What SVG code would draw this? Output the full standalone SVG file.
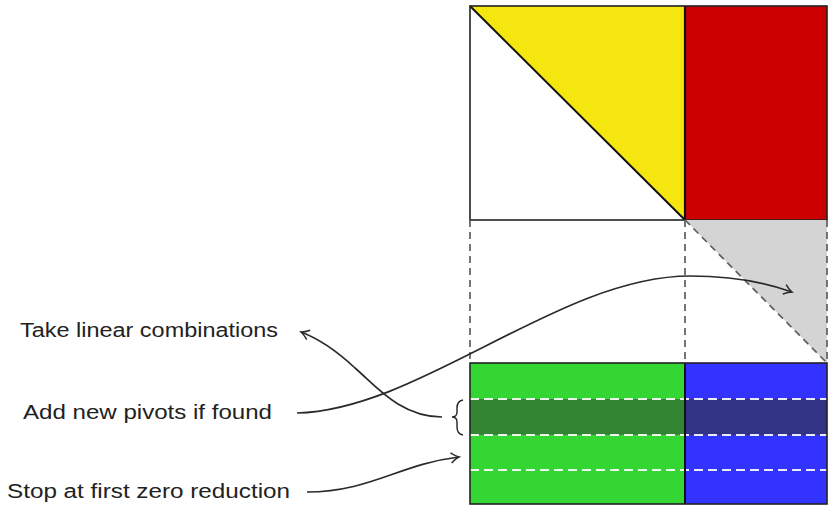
<svg xmlns="http://www.w3.org/2000/svg" width="829" height="506" viewBox="0 0 829 506">
  <style>
    .edge { stroke: #222; stroke-width: 1.6; fill: none; }
    .guide { stroke: #5e5e5e; stroke-width: 1.7; stroke-dasharray: 7 5; fill: none; }
    .row { stroke: #fff; stroke-width: 2; stroke-dasharray: 9 5; fill: none; opacity: 0.9; }
    .conn { stroke: #2a2a2a; stroke-width: 1.7; fill: none; marker-end: url(#arr); }
    .label { font-family: "Liberation Sans", "DejaVu Sans", sans-serif; font-size: 20px; fill: #222; }
  </style>
  <defs>
    <marker id="arr" viewBox="-10 -6 12 12" markerWidth="12" markerHeight="12" refX="0" refY="0" orient="auto" markerUnits="userSpaceOnUse">
      <path d="M-8,-5 Q-3,-1 0,0 Q-3,1 -8,5" fill="none" stroke="#2a2a2a" stroke-width="1.5"/>
    </marker>
  </defs>

  <rect width="829" height="506" fill="#fff"/>

  <!-- upper block: triangular pivot part and right part -->
  <g id="upper">
    <polygon points="470,6 685,6 685,220" fill="#f6e60f"/>
    <rect x="685" y="6" width="142" height="214" fill="#cc0000"/>
    <line x1="470" y1="6" x2="685" y2="220" stroke="#111" stroke-width="2"/>
    <line x1="685" y1="6" x2="685" y2="220" stroke="#111" stroke-width="2.2"/>
    <rect x="470" y="6" width="357" height="214" class="edge"/>
  </g>

  <!-- projected region between the blocks -->
  <g id="projection">
    <polygon points="685,220 827,220 827,363" fill="#d4d4d4"/>
    <line x1="470" y1="220" x2="470" y2="363" class="guide"/>
    <line x1="685" y1="220" x2="685" y2="363" class="guide"/>
    <line x1="827" y1="220" x2="827" y2="363" class="guide"/>
    <line x1="685" y1="220" x2="827" y2="363" class="guide"/>
  </g>

  <!-- lower block: rows being reduced -->
  <g id="lower">
    <rect x="470" y="363" width="215" height="141" fill="#33d633"/>
    <rect x="685" y="363" width="142" height="141" fill="#3333ff"/>
    <rect x="470" y="399" width="215" height="36" fill="#338533"/>
    <rect x="685" y="399" width="142" height="36" fill="#333385"/>
    <line x1="470" y1="399" x2="827" y2="399" class="row"/>
    <line x1="470" y1="435" x2="827" y2="435" class="row"/>
    <line x1="470" y1="470" x2="827" y2="470" class="row"/>
    <line x1="685" y1="363" x2="685" y2="504" stroke="#111" stroke-width="2"/>
    <rect x="470" y="363" width="357" height="141" class="edge"/>
  </g>

  <!-- brace marking the current row band -->
  <g id="brace">
    <path d="M463,400 Q457,401 457,408 L457,412 Q457,417 452,417 Q457,417 457,422 L457,427 Q457,434 463,435" fill="none" stroke="#222" stroke-width="1.4"/>
  </g>

  <g id="label-take">
    <text class="label" x="20" y="337" textLength="258" lengthAdjust="spacingAndGlyphs">Take linear combinations</text>
  </g>
  <g id="label-add">
    <text class="label" x="23" y="419" textLength="249" lengthAdjust="spacingAndGlyphs">Add new pivots if found</text>
  </g>
  <g id="label-stop">
    <text class="label" x="7" y="498" textLength="283" lengthAdjust="spacingAndGlyphs">Stop at first zero reduction</text>
  </g>

  <g id="connectors">
    <path class="conn" d="M297,413 C420,410 560,276 690,276 C735,276 770,284 792,292"/>
    <path class="conn" d="M442,417 C400,417 375,385 355,368 C338,352 322,340 301,332"/>
    <path class="conn" d="M307,492 C370,492 400,464 459,457"/>
  </g>
</svg>
